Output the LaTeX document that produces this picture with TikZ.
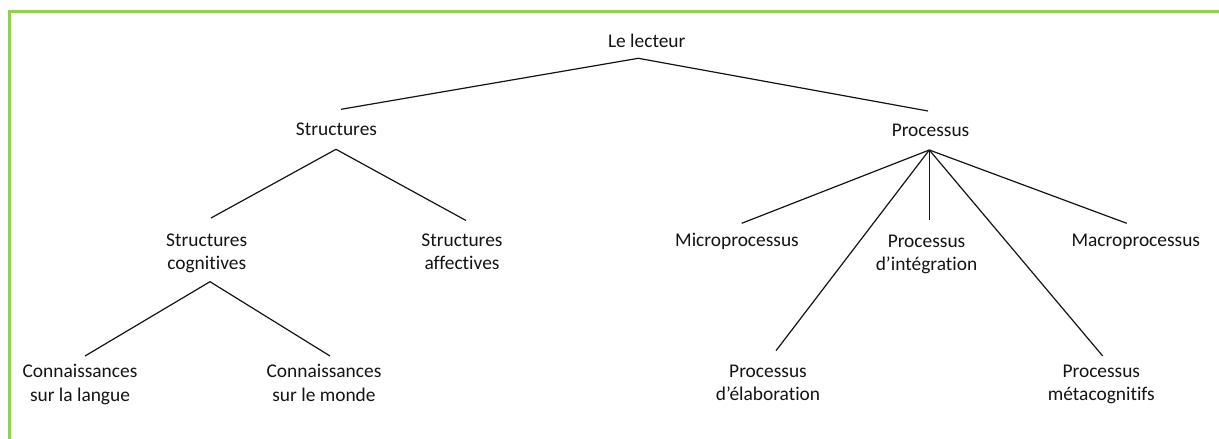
\documentclass[tikz,border=0pt]{standalone}
\usepackage{fontspec}
\setmainfont{Carlito}[Ligatures=NoCommon]
\usetikzlibrary{calc}
\definecolor{framegreen}{RGB}{146,208,80}
\definecolor{inkc}{RGB}{20,20,20}
\tikzset{
  lbl/.style={align=center, inner sep=0pt, text=inkc,
    font=\fontsize{19.4}{23.3}\selectfont},
  edge/.style={draw=inkc, line width=1.2pt},
  frame/.style={draw=framegreen, line width=3pt}
}
\begin{document}
\begin{tikzpicture}[x=1pt,y=-1pt]
\useasboundingbox (0,0) rectangle (1219,439);
\fill[white] (0,0) rectangle (1219,439);
\draw[frame] (9,439) -- (9,11) -- (1219,11);

% nodes (placed at visual centre + 1.5)
\node[lbl] (lect)   at (646.7,43.2)  {\strut Le lecteur};
\node[lbl] (struct) at (336.5,130.8) {\strut Structures};
\node[lbl] (proc)   at (930.5,131.5) {\strut Processus};
\node[lbl] (scog)   at (206.7,253.5) {\strut Structures\\\strut cognitives};
\node[lbl] (saff)   at (462,253.2)   {\strut Structures\\\strut affectives};
\node[lbl] (conl)   at (80,384.8)    {\strut Connaissances\\\strut sur la langue};
\node[lbl] (conm)   at (324,384.8)   {\strut Connaissances\\\strut sur le monde};
\node[lbl] (micro)  at (737,242)     {\strut Microprocessus};
\node[lbl] (pint)   at (926.5,254)   {\strut Processus\\\strut d’intégration};
\node[lbl] (macro)  at (1135.8,241.5){\strut Macroprocessus};
\node[lbl] (pelab)  at (768,384)     {\strut Processus\\\strut d’élaboration};
\node[lbl] (pmeta)  at (1101.3,384)  {\strut Processus\\\strut métacognitifs};

% connectors
\draw[edge] ($(struct)+(4.5,-21.5)$) -- ($(lect)+(-8.4,15.1)$) -- ($(proc)+(-2.5,-20.5)$);
\draw[edge] ($(scog)+(4.3,-35.5)$) -- ($(struct)+(-0.5,18.5)$) -- ($(saff)+(4,-32.7)$);
\draw[edge] ($(conl)+(5,-28.8)$) -- ($(scog)+(3.3,28.2)$) -- ($(conm)+(6,-28.8)$);
\draw[edge] ($(proc)+(-1.2,18.5)$) -- ($(micro)+(4.7,-18.7)$);
\draw[edge] ($(proc)+(-1.2,18.5)$) -- ($(pelab)+(8,-33.3)$);
\draw[edge] ($(proc)+(-1.2,18.5)$) -- ($(pint)+(2.8,-34)$);
\draw[edge] ($(proc)+(-1.2,18.5)$) -- ($(pmeta)+(1.4,-28)$);
\draw[edge] ($(proc)+(-1.2,18.5)$) -- ($(macro)+(-9.1,-18.2)$);
\end{tikzpicture}
\end{document}
